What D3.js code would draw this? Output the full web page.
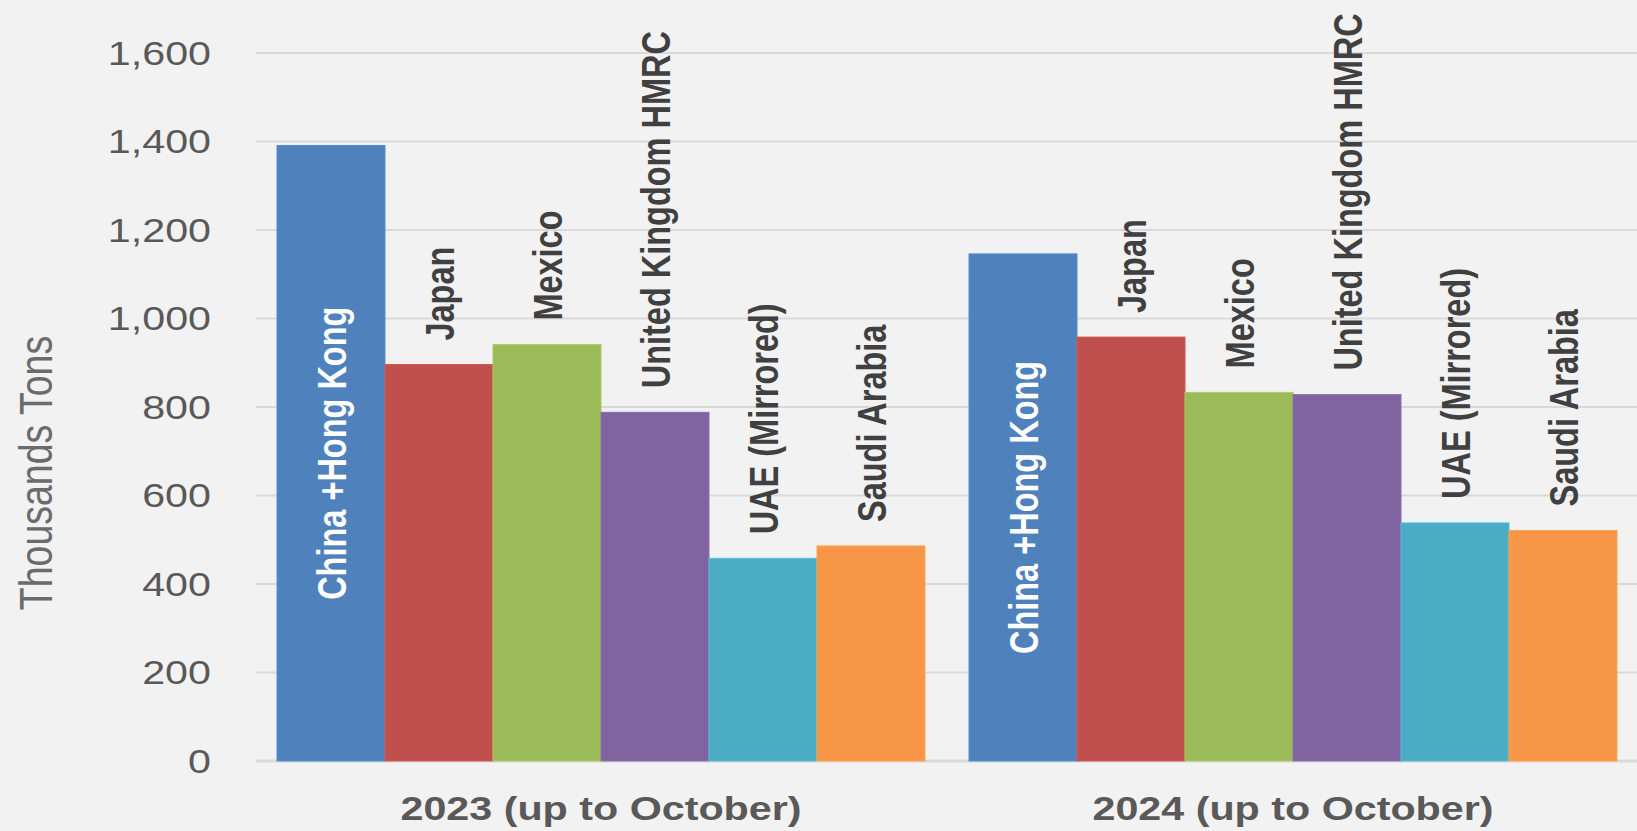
<!DOCTYPE html>
<html>
<head>
<meta charset="utf-8">
<script src="https://cdn.jsdelivr.net/npm/d3@7"></script>
<style>
    body { margin: 0; background: #f2f2f2; }
    svg { display: block; }
</style>
</head>
<body>
<div id="main"></div>
<script>
const ctx = {
    w: 1637,
    h: 831,
    left: 255,
    right: 1639,
    top: 53,
    bottom: 761,
    stretch: 1.25,
    labelGap: 24,
    font: "'Liberation Sans', Arial, sans-serif",
};

const YEARS = ["2023 (up to October)", "2024 (up to October)"];
const COUNTRIES = ["China +Hong Kong", "Japan", "Mexico", "United Kingdom HMRC", "UAE (Mirrored)", "Saudi Arabia"];
const COLORS = ["#4f81bd", "#c0504d", "#9bbb59", "#8064a2", "#4bacc6", "#f79646"];
const VALUES_2023 = [1391, 896, 941, 788, 458, 486];
const VALUES_2024 = [1146, 958, 833, 828, 538, 521];
const Y_TICKS = [0, 200, 400, 600, 800, 1000, 1200, 1400, 1600];

function createViz() {
    let svgEl = d3.select("#main").append("svg")
        .attr("width", ctx.w)
        .attr("height", ctx.h);

    svgEl.append("rect")
        .attr("width", ctx.w)
        .attr("height", ctx.h)
        .attr("fill", "#f2f2f2");

    let groups = YEARS.map((y, i) => ({
        year: y,
        values: (i == 0 ? VALUES_2023 : VALUES_2024).map((v, j) => ({ country: COUNTRIES[j], value: v, idx: j }))
    }));

    let x0 = d3.scaleBand()
        .domain(YEARS)
        .range([ctx.left, ctx.right])
        .paddingInner(0.0636)
        .paddingOuter(0.0318);
    let x1 = d3.scaleBand()
        .domain(COUNTRIES)
        .range([0, x0.bandwidth()]);
    let y = d3.scaleLinear()
        .domain([0, 1600])
        .range([ctx.bottom, ctx.top]);
    let color = d3.scaleOrdinal().domain(COUNTRIES).range(COLORS);

    // gridlines
    svgEl.append("g")
        .selectAll("line")
        .data(Y_TICKS)
        .enter()
        .append("line")
        .attr("x1", ctx.left + 1)
        .attr("x2", ctx.w)
        .attr("y1", (d) => y(d))
        .attr("y2", (d) => y(d))
        .attr("stroke", "#d9d9d9")
        .attr("stroke-width", (d) => (d == 0 ? 3 : 2));

    // y tick labels
    svgEl.append("g")
        .selectAll("text")
        .data(Y_TICKS)
        .enter()
        .append("text")
        .attr("transform", (d) => `translate(211,${y(d)}) scale(${ctx.stretch},1)`)
        .attr("dy", "0.36em")
        .attr("text-anchor", "end")
        .style("font-family", ctx.font)
        .style("font-size", "33px")
        .style("fill", "#595959")
        .text(d3.format(","));

    // y axis title
    svgEl.append("text")
        .attr("transform", `translate(52,473) scale(${ctx.stretch},1) rotate(-90)`)
        .attr("text-anchor", "middle")
        .style("font-family", ctx.font)
        .style("font-size", "37.5px")
        .style("fill", "#6b6b6b")
        .text("Thousands Tons");

    let groupG = svgEl.selectAll("g.group")
        .data(groups)
        .enter()
        .append("g")
        .classed("group", true)
        .attr("transform", (d) => `translate(${x0(d.year)},0)`);

    groupG.selectAll("rect")
        .data((d) => d.values)
        .enter()
        .append("rect")
        .attr("x", (d) => x1(d.country))
        .attr("y", (d) => y(d.value))
        .attr("width", x1.bandwidth())
        .attr("height", (d) => y(0) - y(d.value))
        .attr("fill", (d) => color(d.country))
        .attr("stroke", (d) => d3.color(color(d.country)).brighter(0.25))
        .attr("stroke-width", 1);

    // data labels: first one inside the bar, the rest above it
    groupG.selectAll("text.lbl")
        .data((d) => d.values)
        .enter()
        .append("text")
        .classed("lbl", true)
        .attr("transform", (d) => {
            let cx = x1(d.country) + x1.bandwidth() / 2;
            let cy = d.idx == 0 ? (y(d.value) + y(0)) / 2 : y(d.value) - ctx.labelGap;
            return `translate(${cx},${cy}) scale(${ctx.stretch},1) rotate(-90)`;
        })
        .attr("dy", "0.36em")
        .attr("text-anchor", (d) => (d.idx == 0 ? "middle" : "start"))
        .style("font-family", ctx.font)
        .style("font-weight", "bold")
        .style("font-size", "32.5px")
        .style("fill", (d) => (d.idx == 0 ? "#ffffff" : "#404040"))
        .text((d) => d.country);

    // category labels
    groupG.append("text")
        .attr("transform", `translate(${x0.bandwidth() / 2},820) scale(${ctx.stretch},1)`)
        .attr("text-anchor", "middle")
        .style("font-family", ctx.font)
        .style("font-weight", "bold")
        .style("font-size", "33px")
        .style("fill", "#595959")
        .text((d) => d.year);
}

createViz();
</script>
</body>
</html>
